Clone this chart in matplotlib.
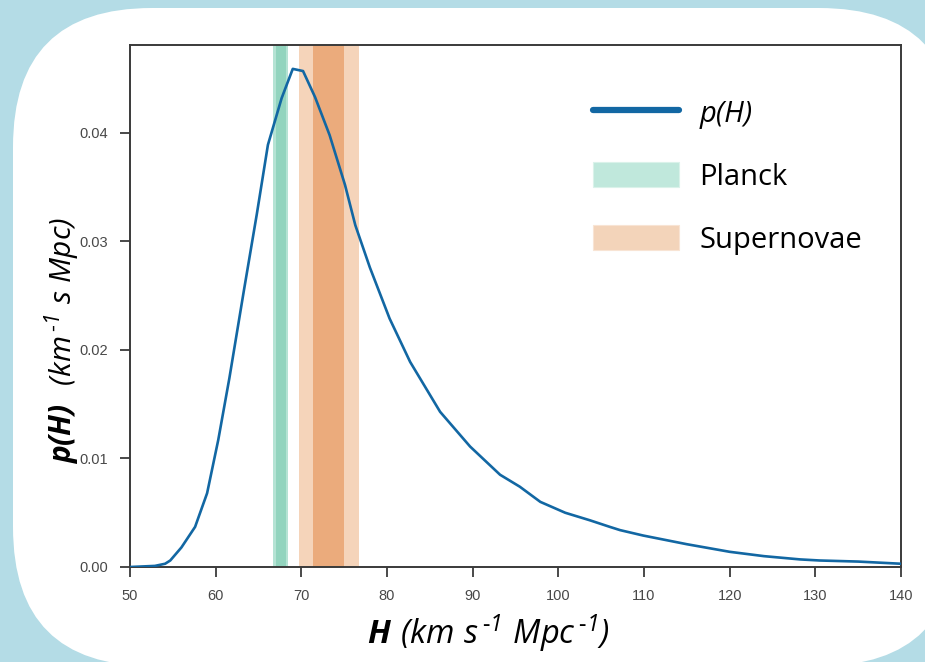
import matplotlib.pyplot as plt
from matplotlib.patches import FancyBboxPatch, Patch
from matplotlib.lines import Line2D

# curve values
h_vals = [50, 52.9, 54.1, 54.7, 56.0, 57.6, 59.0, 60.3, 61.6, 63.3, 64.8, 66.1,
          67.7, 69.0, 70.2, 71.6, 73.3, 75.1, 76.3, 78.0, 80.3, 82.7, 86.2,
          89.7, 93.2, 95.5, 97.9, 100.8, 103.7, 106.0, 107.2, 109.9, 115.0,
          120.0, 124.0, 128.2, 130.5, 135.0, 140.0]
p_vals = [0.0, 0.0001, 0.0003, 0.0006, 0.0018, 0.0037, 0.0068, 0.0117, 0.0174,
          0.0255, 0.0325, 0.0389, 0.0432, 0.0459, 0.0457, 0.0433, 0.0398,
          0.0352, 0.0315, 0.0276, 0.0229, 0.0189, 0.0143, 0.0111, 0.0085,
          0.0074, 0.0060, 0.0050, 0.0043, 0.0037, 0.0034, 0.0029, 0.0021,
          0.0014, 0.0010, 0.0007, 0.0006, 0.0005, 0.0003]

planck_mid, planck_1s, planck_2s = 67.6, 0.6, 0.9
sn_mid, sn_1s, sn_2s = 73.2, 1.8, 3.5

x_ticks = [50, 60, 70, 80, 90, 100, 110, 120, 130, 140]
y_ticks = [0.0, 0.01, 0.02, 0.03, 0.04]

line_col = '#1267a3'
plt.rcParams['mathtext.fontset'] = 'custom'
plt.rcParams['mathtext.rm'] = 'Open Sans:italic'
plt.rcParams['mathtext.it'] = 'Open Sans:italic'
plt.rcParams['mathtext.bf'] = 'Open Sans:italic:bold'

fig = plt.figure(figsize=(9.25, 6.62), dpi=100, facecolor='#b4dce6')

# white rounded card behind the chart
card = FancyBboxPatch((13 / 925, -4 / 662), 945 / 925, 658 / 662,
                      boxstyle='round,pad=0,rounding_size=0.15',
                      transform=fig.transFigure, facecolor='white',
                      edgecolor='none', zorder=-5, mutation_aspect=925 / 662)
fig.patches.append(card)

ax = fig.add_axes([130 / 925, 1 - 567 / 662, 771 / 925, 522 / 662])
ax.set_facecolor('white')

ax.axvspan(planck_mid - planck_2s, planck_mid + planck_2s, color='#b5e3d4', lw=0, zorder=1)
ax.axvspan(planck_mid - planck_1s, planck_mid + planck_1s, color='#92d4be', lw=0, zorder=1)
ax.axvspan(sn_mid - sn_2s, sn_mid + sn_2s, color='#f5d4ba', lw=0, zorder=1)
ax.axvspan(sn_mid - sn_1s, sn_mid + sn_1s, color='#ebab7c', lw=0, zorder=1)
ax.plot(h_vals, p_vals, color=line_col, lw=1.9, zorder=3)

ax.set_xlim(50, 140)
ax.set_ylim(0, 0.0481)
ax.set_xticks(x_ticks)
ax.set_yticks(y_ticks)
ax.set_yticklabels([f'{v:.2f}' for v in y_ticks])
ax.tick_params(direction='out', length=7, width=1.3, color='#3a3a3a',
               labelcolor='#484848', labelsize=10.5, pad=8.5)
for lab in ax.get_xticklabels() + ax.get_yticklabels():
    lab.set_family('Liberation Sans')
for s in ax.spines.values():
    s.set_color('#3a3a3a')
    s.set_linewidth(1.4)

handles = [Line2D([], [], color=line_col, lw=4.5, solid_capstyle='round'),
           Patch(facecolor='#c0e8dc', edgecolor='#daf2ea', lw=0.8),
           Patch(facecolor='#f3d4ba', edgecolor='#f8e4d4', lw=0.8)]
labels = ['p(H)', 'Planck', 'Supernovae']
leg = fig.legend(handles, labels, loc='upper left', bbox_to_anchor=(593 / 925, 1 - 99 / 662),
                 frameon=False, borderpad=0, borderaxespad=0,
                 prop={'family': 'Open Sans', 'size': 21},
                 handlelength=2.95, handleheight=0.95, handletextpad=0.7,
                 labelspacing=1.15)
leg.get_texts()[0].set_style('italic')
leg.set_zorder(5)

fig.text(488 / 925, 1 - 633 / 662, '$\\mathbf{H}$ $(km\\ s^{\\,\u2010 1}\\ Mpc^{\\,\u2010 1})$',
         ha='center', va='center', fontsize=23.5)
fig.text(62 / 925, 1 - 340 / 662, '$\\mathbf{p(H)}$  $(km^{\\,\u2010 1}\\ s\\ Mpc)$',
         ha='center', va='center', rotation=90, fontsize=21.5)

fig.savefig('out.png', dpi=100, facecolor=fig.get_facecolor())
